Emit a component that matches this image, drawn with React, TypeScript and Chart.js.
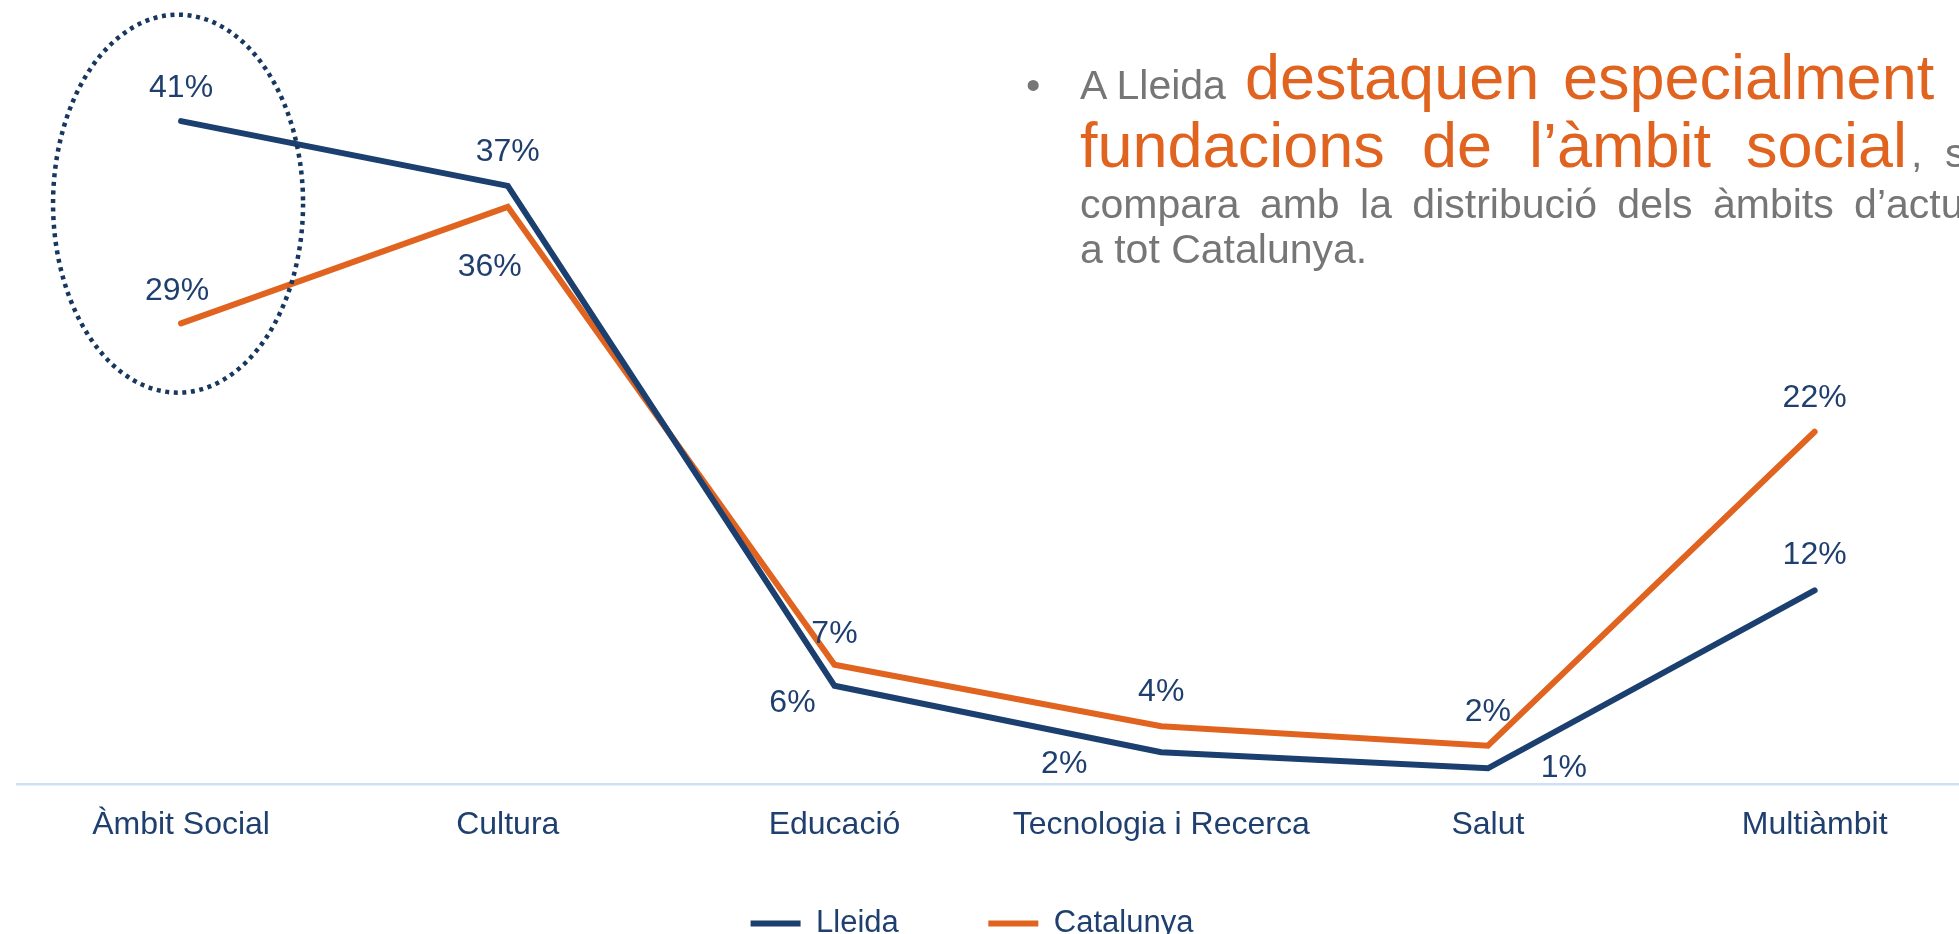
import React, { useEffect, useRef } from "react";
import { Chart, registerables } from "chart.js";

Chart.register(...registerables);

// ---- data ----
const categories = ["Àmbit Social", "Cultura", "Educació", "Tecnologia i Recerca", "Salut", "Multiàmbit"];
const seriesNames = ["Lleida", "Catalunya"];
const lleida = [41.0, 37.0, 6.1, 2.0, 1.0, 12.0];
const catalunya = [28.5, 35.7, 7.4, 3.6, 2.4, 21.8];
const yMin = 0;
const yMax = 45;

// ---- styles ----
const FONT = '"Liberation Sans", Arial, Helvetica, sans-serif';
const NAVY = "#1B3F6F";
const NAVY_TEXT = "#1F3F6E";
const ORANGE = "#E0641F";
const GRAY = "#767676";
const AXIS = "#CFE0F5";

// label offsets (dx, dy) from each point, per series
const LABEL_OFFSETS = [
  [[0, -33], [0, -34], [-42, 17], [-97, 12], [76, 0], [0, -35]],
  [[-4, -32], [-18, 60], [0, -31], [0, -34], [0, -33], [0, -34]],
];

const labelPlugin = {
  id: "pctLabels",
  afterDatasetsDraw(chart: any) {
    const ctx = chart.ctx;
    ctx.save();
    ctx.font = `32px ${FONT}`;
    ctx.fillStyle = NAVY_TEXT;
    ctx.textAlign = "center";
    ctx.textBaseline = "middle";
    chart.data.datasets.forEach((ds: any, di: number) => {
      const meta = chart.getDatasetMeta(di);
      meta.data.forEach((pt: any, i: number) => {
        const v = ds.data[i];
        const [dx, dy] = LABEL_OFFSETS[di][i];
        ctx.fillText(`${Math.round(v)}%`, pt.x + dx, pt.y + dy);
      });
    });
    ctx.restore();
  },
};

const ellipsePlugin = {
  id: "highlightEllipse",
  afterDatasetsDraw(chart: any) {
    const ctx = chart.ctx;
    const cx = chart.scales.x.getPixelForValue(0) - 3;
    const cy = chart.scales.y.getPixelForValue(35.9);
    ctx.save();
    ctx.strokeStyle = "#17375E";
    ctx.lineWidth = 4.5;
    ctx.setLineDash([4, 4.6]);
    ctx.beginPath();
    ctx.ellipse(cx, cy, 125, 189, 0, 0, Math.PI * 2);
    ctx.stroke();
    ctx.restore();
  },
};

function LineChart() {
  const ref = useRef<HTMLCanvasElement | null>(null);
  useEffect(() => {
    if (!ref.current) return;
    const chart = new Chart(ref.current, {
      type: "line",
      data: {
        labels: categories,
        datasets: [
          {
            label: seriesNames[0],
            data: lleida,
            borderColor: NAVY,
            backgroundColor: NAVY,
            borderWidth: 6,
            borderCapStyle: "round",
            pointRadius: 0,
            tension: 0,
          },
          {
            label: seriesNames[1],
            data: catalunya,
            borderColor: ORANGE,
            backgroundColor: ORANGE,
            borderWidth: 6,
            borderCapStyle: "round",
            pointRadius: 0,
            tension: 0,
          },
        ],
      },
      options: {
        responsive: false,
        animation: false,
        devicePixelRatio: 1,
        layout: { padding: { top: 56.4, left: 0, right: 0, bottom: 0 } },
        plugins: {
          legend: {
            position: "bottom",
            labels: {
              usePointStyle: true,
              pointStyle: "line",
              pointStyleWidth: 50,
              padding: 89.5,
              color: NAVY_TEXT,
              font: { family: FONT, size: 31 },
            },
          },
          tooltip: { enabled: false },
        },
        scales: {
          x: {
            offset: true,
            grid: { display: false, drawTicks: false },
            border: { display: true, color: AXIS, width: 2.5 },
            ticks: {
              color: NAVY_TEXT,
              font: { family: FONT, size: 32 },
              mirror: true,
              padding: -59.5,
              maxRotation: 0,
              minRotation: 0,
              autoSkip: false,
            },
            afterFit: (s: any) => {
              s.height = 34;
            },
          },
          y: {
            min: yMin,
            max: yMax,
            display: true,
            grid: { display: false, drawTicks: false },
            border: { display: false },
            ticks: { display: false },
            afterFit: (s: any) => {
              s.width = 51.7;
            },
          },
        },
      },
      plugins: [labelPlugin, ellipsePlugin],
    } as any);
    return () => chart.destroy();
  }, []);
  return (
    <canvas
      ref={ref}
      width={2012}
      height={949}
      style={{ position: "absolute", left: -34, top: 0, width: 2012, height: 949 }}
    />
  );
}

function Annotation() {
  const big = { fill: ORANGE, fontSize: 63 } as const;
  const small = { fill: GRAY, fontSize: 41 } as const;
  return (
    <svg
      width={1959}
      height={934}
      style={{ position: "absolute", left: 0, top: 0, pointerEvents: "none" }}
      fontFamily={FONT}
    >
      <text x={1026} y={99} {...small}>•</text>
      <text x={1080} y={99} {...small}>A Lleida</text>
      <text x={1245} y={99} {...big}>destaquen</text>
      <text x={1563} y={99} {...big}>especialment</text>
      <text x={1966} y={99} {...big}>les</text>

      <text x={1080} y={167} {...big}>fundacions</text>
      <text x={1422} y={167} {...big}>de</text>
      <text x={1529} y={167} {...big}>l’àmbit</text>
      <text x={1746} y={167} {...big}>social</text>
      <text x={1911} y={167} {...small}>,</text>
      <text x={1945} y={167} {...small}>si es</text>

      <text x={1080} y={218} {...small} style={{ wordSpacing: "9px" }}>
        compara amb la distribució dels àmbits d’actuació
      </text>
      <text x={1080} y={263} {...small}>a tot Catalunya.</text>
    </svg>
  );
}

export default function App() {
  return (
    <div
      style={{
        position: "fixed",
        left: 0,
        top: 0,
        width: 1959,
        height: 934,
        overflow: "hidden",
        background: "#ffffff",
      }}
    >
      <LineChart />
      <Annotation />
    </div>
  );
}
